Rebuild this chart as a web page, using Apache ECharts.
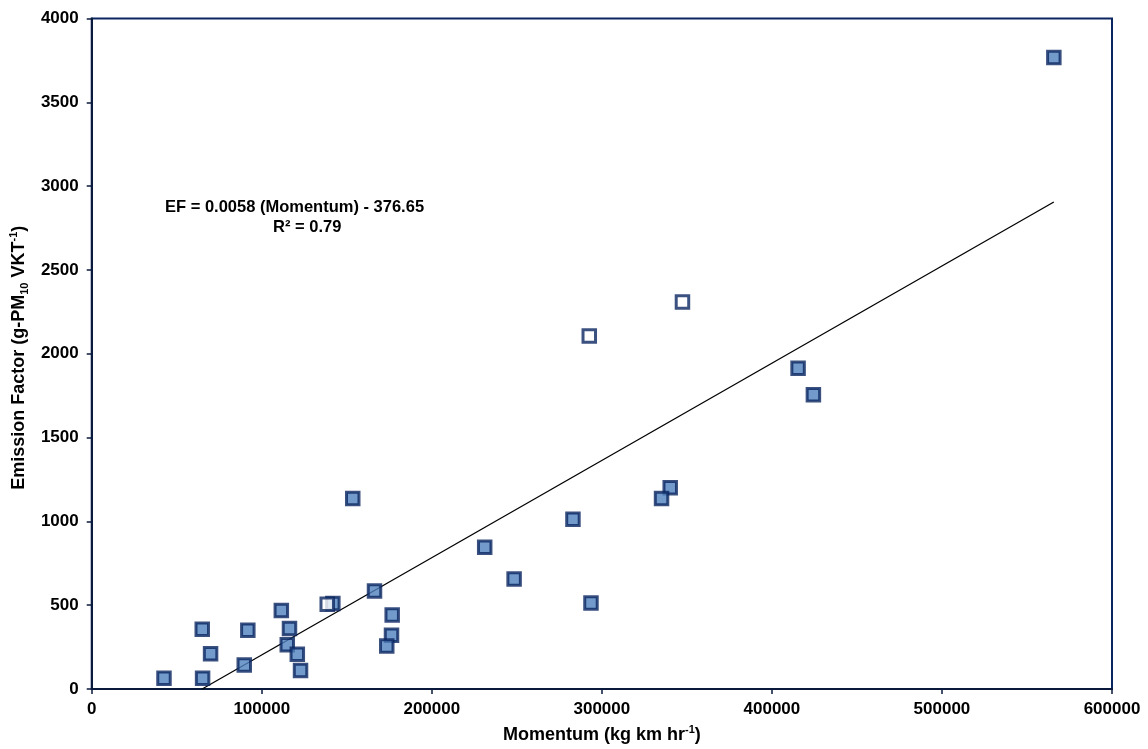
<!DOCTYPE html>
<html>
<head>
<meta charset="utf-8">
<script src="https://cdn.jsdelivr.net/npm/echarts@6/dist/echarts.min.js"></script>
<style>
  html, body { margin: 0; padding: 0; background: #fff; }
  #chart { width: 1148px; height: 749px; }
</style>
</head>
<body>
<div id="chart"></div>
<script>
  // momentum (kg km/hr) and emission factor (g-PM10/VKT)
  const filledMomentum = [565800, 415400, 424400, 340200, 335100, 283000, 231100, 248400, 293600,
    153500, 166300, 141800, 111500, 176700, 65000, 91800, 116300, 176300, 69900, 115000,
    173500, 120900, 89700, 122800, 42500, 65200]
  const filledEF = [3767, 1913, 1756, 1201, 1136, 1013, 845, 656, 513,
    1136, 585, 510, 468, 442, 357, 351, 361, 321, 210, 264,
    256, 208, 143, 111, 64, 64]
  const openMomentum = [292600, 347400, 138500]
  const openEF = [2106, 2308, 506]

  // fitted line EF = slope * momentum + intercept
  const slope = 0.0058
  const intercept = -376.65
  const fitLabel = 'EF = 0.0058 (Momentum) - 376.65'
  const r2Label = 'R² = 0.79'

  const navy = '#0a2560'
  const axisDark = '#0a1a3c'
  const font = 'Liberation Sans, Arial, sans-serif'

  const filled = filledMomentum.map((x, i) => [x, filledEF[i]])
  const open = openMomentum.map((x, i) => [x, openEF[i]])
  const xMax = Math.max(...filledMomentum, ...openMomentum)
  const fitLine = [[-intercept / slope, 0], [xMax, slope * xMax + intercept]]

  const titleRich = {
    t: { fontWeight: 'bold', fontSize: 18, fontFamily: font, color: '#000', lineHeight: 22 },
    sub: { fontWeight: 'bold', fontSize: 11, fontFamily: font, color: '#000', verticalAlign: 'bottom', lineHeight: 22, padding: [7, 0, 0, 0] },
    sup: { fontWeight: 'bold', fontSize: 11, fontFamily: font, color: '#000', verticalAlign: 'top', lineHeight: 22, padding: [0, 0, 7, 0] }
  }

  const chart = echarts.init(document.getElementById('chart'))
  chart.setOption({
    animation: false,
    grid: {
      left: 91,
      right: 36,
      top: 18.5,
      bottom: 57,
      show: true,
      borderColor: navy,
      borderWidth: 2
    },
    xAxis: {
      type: 'value',
      min: 0,
      max: 600000,
      interval: 100000,
      splitLine: { show: false },
      axisLine: { lineStyle: { color: axisDark, width: 2 } },
      axisTick: { length: 5, lineStyle: { color: axisDark, width: 1.5 } },
      axisLabel: {
        color: '#000', fontWeight: 'bold', fontSize: 17, fontFamily: font, margin: 12,
        formatter: v => String(v)
      },
      name: '{t|Momentum (kg km hr}{sup|-1}{t|)}',
      nameLocation: 'middle',
      nameGap: 35,
      nameTextStyle: { rich: titleRich }
    },
    yAxis: {
      type: 'value',
      min: 0,
      max: 4000,
      interval: 500,
      splitLine: { show: false },
      axisLine: { lineStyle: { color: axisDark, width: 2 } },
      axisTick: { length: 5, lineStyle: { color: axisDark, width: 1.5 } },
      axisLabel: {
        color: '#000', fontWeight: 'bold', fontSize: 17, fontFamily: font, margin: 13,
        formatter: v => String(v)
      },
      name: '{t|Emission Factor (g-PM}{sub|10}{t| VKT}{sup|-1}{t|)}',
      nameLocation: 'middle',
      nameRotate: 90,
      nameGap: 61,
      nameTextStyle: { padding: [0, 8, 0, 0], rich: titleRich }
    },
    graphic: [
      {
        type: 'text',
        left: 165,
        top: 199,
        style: { text: fitLabel, font: 'bold 16.5px ' + font, fill: '#000' }
      },
      {
        type: 'text',
        left: 273,
        top: 219,
        style: { text: r2Label, font: 'bold 16.5px ' + font, fill: '#000' }
      }
    ],
    series: [
      {
        type: 'line',
        data: fitLine,
        symbol: 'none',
        lineStyle: { color: '#000', width: 1.3 },
        silent: true,
        z: 1
      },
      {
        type: 'scatter',
        data: filled,
        symbol: 'rect',
        symbolSize: 12.5,
        itemStyle: { color: '#4f81bd', borderColor: navy, borderWidth: 3 },
        z: 3
      },
      {
        type: 'scatter',
        data: open,
        symbol: 'rect',
        symbolSize: 12.5,
        itemStyle: { color: '#fff', borderColor: navy, borderWidth: 3 },
        z: 4
      }
    ]
  })
</script>
</body>
</html>
